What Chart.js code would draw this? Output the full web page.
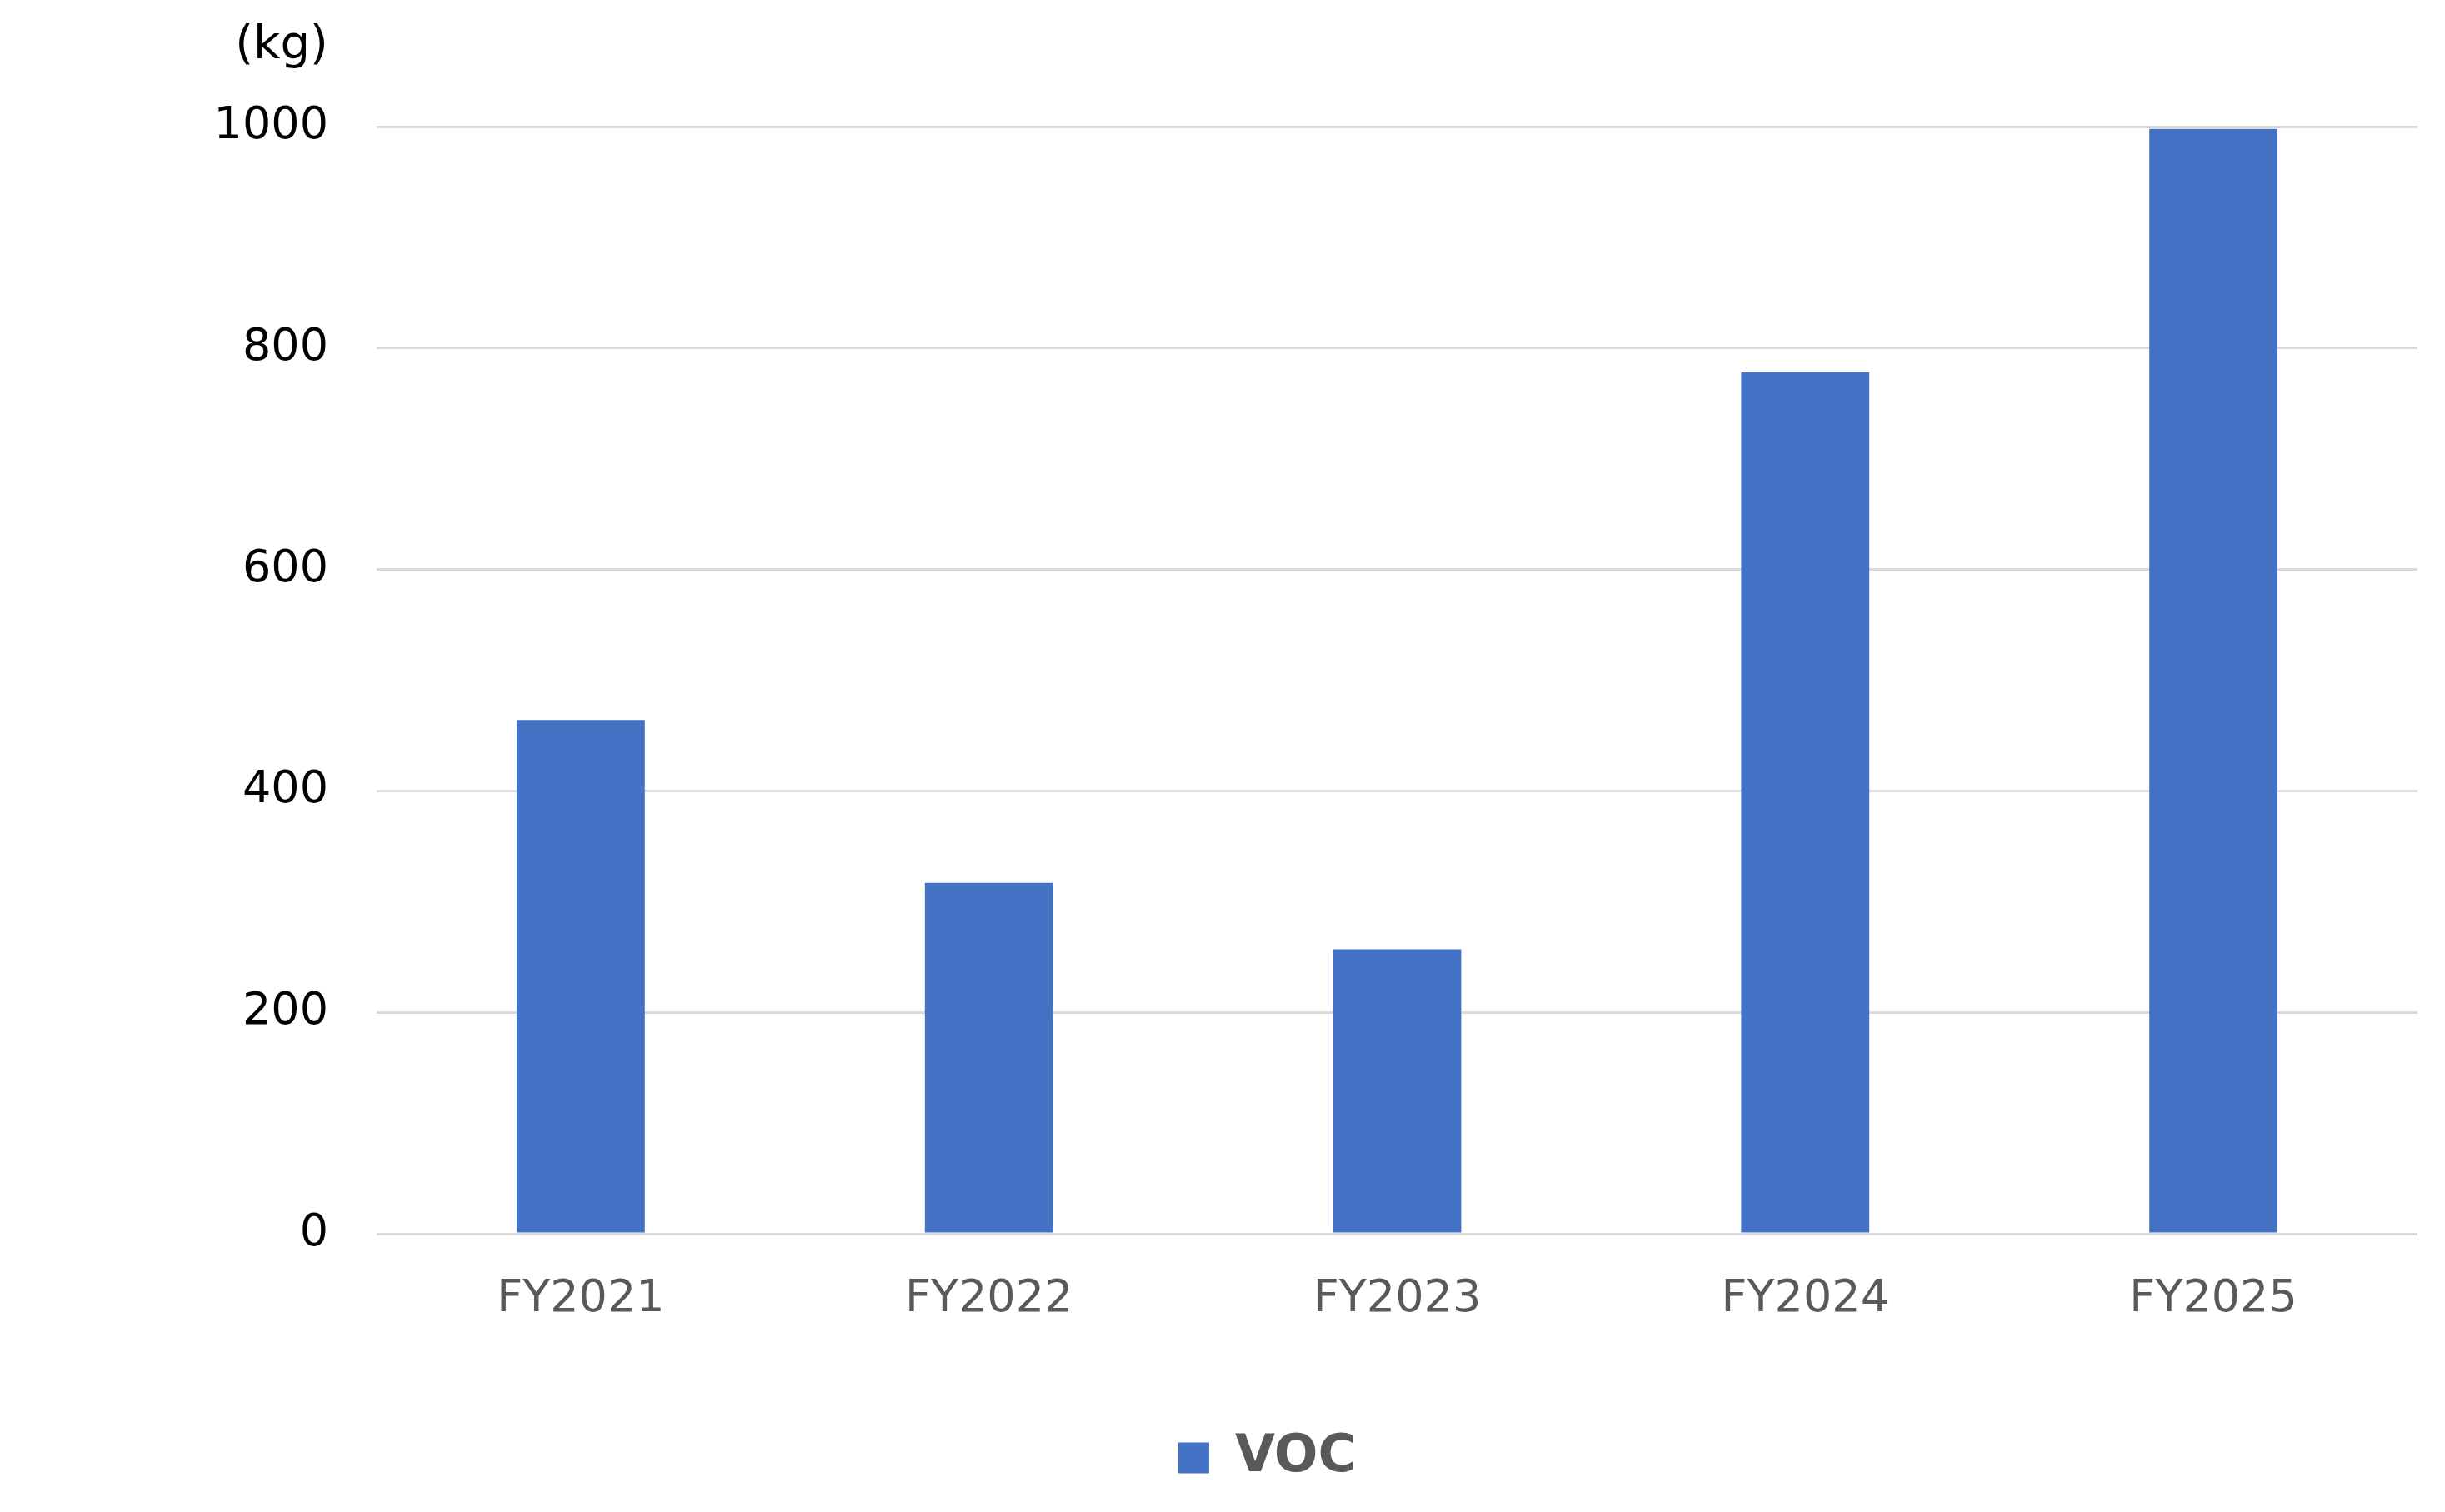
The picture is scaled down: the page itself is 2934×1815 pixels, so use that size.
<!DOCTYPE html>
<html>
<head>
<meta charset="utf-8">
<script src="https://cdn.jsdelivr.net/npm/chart.js@4"></script>
<style>
  html, body { margin: 0; padding: 0; background: #ffffff; }
  #wrap { width: 2934px; height: 1815px; position: relative; }
</style>
</head>
<body>
<div id="wrap"><canvas id="c" width="2934" height="1815"></canvas></div>
<script>
const categories = ['FY2021', 'FY2022', 'FY2023', 'FY2024', 'FY2025'];
const vocValues = [464, 317, 257, 778, 998];
const seriesName = 'VOC';
const unitLabel = '(kg)';
const yMin = 0, yMax = 1000, yStep = 200;

const unitPlugin = {
  id: 'unitLabel',
  afterDraw(chart) {
    const ctx = chart.ctx;
    ctx.save();
    ctx.font = '56px "DejaVu Sans"';
    ctx.fillStyle = '#000000';
    ctx.textAlign = 'center';
    ctx.textBaseline = 'middle';
    ctx.fillText(unitLabel, 338, 55);
    ctx.restore();
  }
};

new Chart(document.getElementById('c'), {
  type: 'bar',
  data: {
    labels: categories,
    datasets: [{
      label: seriesName,
      data: vocValues,
      backgroundColor: '#4472C4',
      borderWidth: 0,
      categoryPercentage: 1.0,
      barPercentage: 0.314
    }]
  },
  options: {
    responsive: false,
    animation: false,
    devicePixelRatio: 1,
    layout: { padding: { top: 152, right: 33, bottom: 24, left: 140 } },
    plugins: {
      legend: {
        position: 'bottom',
        labels: {
          font: { family: '"DejaVu Sans"', size: 62, weight: 'bold' },
          color: '#595959',
          boxWidth: 37,
          boxHeight: 37,
          padding: 10
        }
      },
      tooltip: { enabled: false }
    },
    scales: {
      x: {
        grid: { display: false, drawTicks: false },
        border: { display: false },
        ticks: {
          font: { family: '"DejaVu Sans"', size: 54 },
          color: '#595959',
          padding: 47
        },
        afterFit(scale) { scale.height = 228; }
      },
      y: {
        min: yMin,
        max: yMax,
        grid: { color: '#d9d9d9', lineWidth: 3, drawTicks: false },
        border: { display: false },
        ticks: {
          stepSize: yStep,
          font: { family: '"DejaVu Sans"', size: 54 },
          color: '#000000',
          padding: 58,
          callback: (v) => String(v)
        },
        afterFit(scale) { scale.width = 312; }
      }
    }
  },
  plugins: [unitPlugin]
});
</script>
</body>
</html>
